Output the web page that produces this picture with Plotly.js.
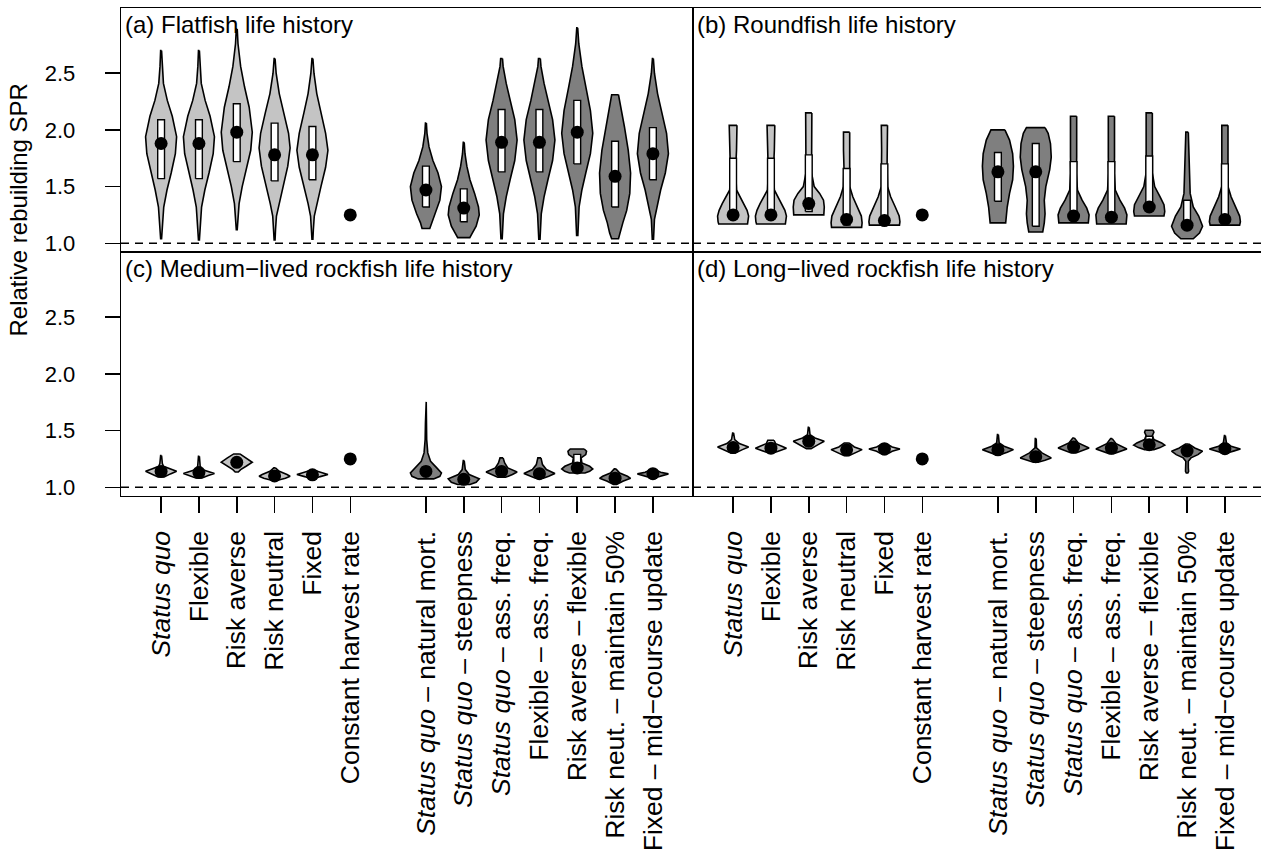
<!DOCTYPE html>
<html>
<head>
<meta charset="utf-8">
<script src="https://cdn.plot.ly/plotly-3.0.1.min.js"></script>
<style>
  html, body { margin: 0; padding: 0; overflow: hidden; background: #fff; }
  #chart { width: 1265px; height: 864px; }
</style>
</head>
<body>
<div id="chart"></div>
<script>
// Harvest control rules on the x axis; slot 7 is left empty between the two groups
const procedurePositions = [1, 2, 3, 4, 5, 6, 8, 9, 10, 11, 12, 13, 14];
const procedureLabels = [
  '<i>Status quo</i>',
  'Flexible',
  'Risk averse',
  'Risk neutral',
  'Fixed',
  'Constant harvest rate',
  '<i>Status quo</i> – natural mort.',
  '<i>Status quo</i> – steepness',
  '<i>Status quo</i> – ass. freq.',
  'Flexible – ass. freq.',
  'Risk averse – flexible',
  'Risk neut. – maintain 50%',
  'Fixed – mid−course update'
];
const panelTitles = [
  '(a) Flatfish life history',
  '(b) Roundfish life history',
  '(c) Medium−lived rockfish life history',
  '(d) Long−lived rockfish life history'
];
const yTickValues = [1.0, 1.5, 2.0, 2.5];

// (a) Flatfish: violin outline levels (SPR) with relative density at each level
const flatLevels = [
  [2.70, 2.56, 2.41, 2.26, 2.12, 1.94, 1.79, 1.62, 1.47, 1.32, 1.18, 1.04],
  [2.70, 2.56, 2.41, 2.26, 2.12, 1.94, 1.79, 1.62, 1.47, 1.32, 1.18, 1.03],
  [2.89, 2.76, 2.56, 2.38, 2.20, 1.98, 1.82, 1.65, 1.50, 1.35, 1.24, 1.12],
  [2.63, 2.50, 2.32, 2.15, 1.97, 1.84, 1.68, 1.50, 1.35, 1.24, 1.12, 1.03],
  [2.63, 2.50, 2.32, 2.15, 1.97, 1.82, 1.67, 1.50, 1.35, 1.24, 1.12, 1.035],
  null,
  [2.06, 1.97, 1.85, 1.73, 1.62, 1.50, 1.38, 1.26, 1.18, 1.13],
  [1.89, 1.79, 1.68, 1.56, 1.44, 1.32, 1.25, 1.15, 1.09, 1.05],
  [2.63, 2.56, 2.41, 2.26, 2.09, 1.91, 1.73, 1.56, 1.41, 1.26, 1.15, 1.04],
  [2.63, 2.56, 2.41, 2.26, 2.09, 1.91, 1.73, 1.56, 1.41, 1.26, 1.15, 1.035],
  [2.90, 2.76, 2.56, 2.38, 2.17, 1.97, 1.79, 1.62, 1.47, 1.32, 1.21, 1.07],
  [2.31, 2.20, 2.03, 1.82, 1.62, 1.44, 1.29, 1.18, 1.09, 1.04],
  [2.63, 2.50, 2.32, 2.15, 1.97, 1.79, 1.62, 1.47, 1.32, 1.21, 1.035]
];
const flatDensity = [
  [0.03, 0.07, 0.15, 0.40, 0.72, 1.00, 0.92, 0.65, 0.38, 0.17, 0.08, 0.03],
  [0.03, 0.07, 0.15, 0.40, 0.72, 1.00, 0.92, 0.65, 0.38, 0.17, 0.08, 0.03],
  [0.03, 0.08, 0.25, 0.50, 0.80, 1.00, 0.90, 0.60, 0.35, 0.15, 0.07, 0.03],
  [0.03, 0.10, 0.30, 0.60, 0.90, 1.00, 0.85, 0.55, 0.28, 0.12, 0.06, 0.03],
  [0.03, 0.10, 0.28, 0.55, 0.85, 1.00, 0.85, 0.55, 0.28, 0.12, 0.06, 0.03],
  null,
  [0.03, 0.07, 0.20, 0.45, 0.78, 1.00, 0.90, 0.60, 0.35, 0.25],
  [0.03, 0.08, 0.20, 0.40, 0.70, 0.95, 1.00, 0.80, 0.55, 0.39],
  [0.06, 0.10, 0.30, 0.55, 0.85, 1.00, 0.85, 0.55, 0.30, 0.12, 0.07, 0.04],
  [0.06, 0.10, 0.30, 0.55, 0.85, 1.00, 0.85, 0.55, 0.30, 0.12, 0.07, 0.04],
  [0.03, 0.10, 0.30, 0.55, 0.85, 1.00, 0.85, 0.55, 0.30, 0.12, 0.07, 0.04],
  [0.22, 0.35, 0.60, 0.85, 1.00, 0.95, 0.75, 0.50, 0.35, 0.22],
  [0.03, 0.10, 0.30, 0.60, 0.88, 1.00, 0.80, 0.50, 0.25, 0.10, 0.04]
];
const flatQ1 = [1.57, 1.57, 1.72, 1.55, 1.56, null, 1.32, 1.19, 1.63, 1.63, 1.70, 1.32, 1.56];
const flatQ3 = [2.09, 2.09, 2.23, 2.06, 2.03, null, 1.68, 1.48, 2.18, 2.18, 2.26, 1.90, 2.02];
const flatMedian = [1.88, 1.88, 1.98, 1.78, 1.78, 1.25, 1.47, 1.31, 1.89, 1.89, 1.98, 1.59, 1.79];

// (b) Roundfish
const roundLevels = [
  [2.04, 1.97, 1.82, 1.76, 1.62, 1.47, 1.41, 1.35, 1.29, 1.24, 1.19, 1.17],
  [2.04, 1.97, 1.82, 1.76, 1.62, 1.47, 1.41, 1.35, 1.29, 1.24, 1.19, 1.17],
  [2.15, 1.97, 1.79, 1.62, 1.50, 1.44, 1.38, 1.32, 1.25],
  [1.98, 1.82, 1.67, 1.50, 1.41, 1.32, 1.24, 1.18, 1.14],
  [2.04, 1.82, 1.67, 1.50, 1.41, 1.32, 1.24, 1.19, 1.16],
  null,
  [2.00, 1.91, 1.79, 1.68, 1.56, 1.44, 1.32, 1.24, 1.18],
  [2.02, 1.97, 1.88, 1.76, 1.65, 1.50, 1.38, 1.26, 1.18, 1.10],
  [2.12, 1.97, 1.76, 1.62, 1.47, 1.38, 1.31, 1.25, 1.18],
  [2.12, 1.97, 1.76, 1.62, 1.47, 1.38, 1.31, 1.25, 1.17],
  [2.15, 1.97, 1.79, 1.62, 1.50, 1.41, 1.34, 1.28, 1.24],
  [1.98, 1.82, 1.62, 1.44, 1.32, 1.24, 1.15, 1.09, 1.04],
  [2.04, 1.82, 1.67, 1.50, 1.41, 1.32, 1.24, 1.19, 1.16]
];
const roundDensity = [
  [0.25, 0.25, 0.22, 0.20, 0.17, 0.22, 0.45, 0.70, 0.90, 1.00, 0.97, 0.93],
  [0.25, 0.25, 0.22, 0.20, 0.17, 0.22, 0.45, 0.70, 0.90, 1.00, 0.97, 0.93],
  [0.20, 0.20, 0.18, 0.18, 0.35, 0.70, 0.95, 1.00, 0.97],
  [0.20, 0.20, 0.17, 0.20, 0.40, 0.70, 0.95, 1.00, 0.97],
  [0.20, 0.18, 0.17, 0.20, 0.40, 0.70, 0.95, 1.00, 0.97],
  null,
  [0.45, 0.75, 0.95, 1.00, 0.95, 0.75, 0.60, 0.55, 0.50],
  [0.60, 0.80, 0.95, 1.00, 0.90, 0.65, 0.55, 0.60, 0.55, 0.45],
  [0.20, 0.22, 0.20, 0.18, 0.25, 0.55, 0.85, 1.00, 0.95],
  [0.20, 0.22, 0.20, 0.18, 0.25, 0.55, 0.85, 1.00, 0.95],
  [0.20, 0.22, 0.20, 0.20, 0.35, 0.70, 0.95, 1.00, 0.95],
  [0.08, 0.12, 0.15, 0.20, 0.40, 0.75, 1.00, 0.80, 0.40],
  [0.20, 0.20, 0.18, 0.20, 0.40, 0.70, 0.95, 1.00, 0.95]
];
const roundQ1 = [1.23, 1.23, 1.28, 1.16, 1.18, null, 1.37, 1.15, 1.21, 1.20, 1.29, 1.12, 1.18];
const roundQ3 = [1.75, 1.75, 1.78, 1.66, 1.70, null, 1.80, 1.88, 1.72, 1.72, 1.77, 1.38, 1.70];
const roundMedian = [1.25, 1.25, 1.35, 1.21, 1.20, 1.25, 1.63, 1.63, 1.24, 1.23, 1.32, 1.16, 1.21];

// (c) Medium-lived rockfish
const mediumLevels = [
  [1.28, 1.21, 1.185, 1.162, 1.141, 1.118, 1.091],
  [1.274, 1.185, 1.156, 1.135, 1.121, 1.103, 1.082],
  [1.294, 1.259, 1.221, 1.185, 1.156, 1.135],
  [1.171, 1.141, 1.112, 1.097, 1.079, 1.062],
  [1.15, 1.126, 1.112, 1.094, 1.074],
  null,
  [1.753, 1.568, 1.421, 1.303, 1.229, 1.171, 1.126, 1.097, 1.074],
  [1.235, 1.156, 1.112, 1.074, 1.044, 1.024],
  [1.259, 1.215, 1.171, 1.135, 1.112, 1.088],
  [1.259, 1.20, 1.156, 1.121, 1.097, 1.079],
  [1.338, 1.318, 1.288, 1.259, 1.215, 1.185, 1.162, 1.141, 1.126],
  [1.162, 1.126, 1.097, 1.079, 1.053, 1.024],
  [1.156, 1.132, 1.118, 1.097, 1.082]
];
const mediumDensity = [
  [0.03, 0.08, 0.15, 0.60, 1.00, 0.60, 0.20],
  [0.03, 0.08, 0.20, 0.70, 1.00, 0.60, 0.20],
  [0.20, 0.60, 1.00, 0.60, 0.25, 0.10],
  [0.05, 0.30, 0.80, 1.00, 0.70, 0.20],
  [0.10, 0.60, 1.00, 0.50, 0.10],
  null,
  [0.02, 0.03, 0.05, 0.12, 0.30, 0.70, 1.00, 0.90, 0.50],
  [0.03, 0.10, 0.35, 1.00, 0.80, 0.40],
  [0.10, 0.20, 0.40, 1.00, 0.70, 0.25],
  [0.10, 0.20, 0.45, 1.00, 0.60, 0.25],
  [0.45, 0.60, 0.55, 0.25, 0.30, 0.80, 1.00, 0.80, 0.50],
  [0.05, 0.30, 0.80, 1.00, 0.50, 0.10],
  [0.10, 0.50, 1.00, 0.50, 0.10]
];
const mediumQ1 = [1.12, 1.11, 1.20, 1.09, 1.10, null, 1.11, 1.05, 1.12, 1.10, 1.15, 1.06, 1.11];
const mediumQ3 = [1.16, 1.15, 1.24, 1.12, 1.12, null, 1.18, 1.10, 1.16, 1.14, 1.29, 1.10, 1.13];
const mediumMedian = [1.14, 1.13, 1.22, 1.10, 1.11, 1.25, 1.14, 1.07, 1.14, 1.12, 1.17, 1.08, 1.12];

// (d) Long-lived rockfish
const longLevels = [
  [1.479, 1.421, 1.385, 1.356, 1.332, 1.303],
  [1.415, 1.385, 1.362, 1.344, 1.324, 1.303],
  [1.529, 1.465, 1.435, 1.406, 1.376, 1.341],
  [1.391, 1.356, 1.332, 1.309, 1.279],
  [1.382, 1.356, 1.338, 1.318, 1.288],
  null,
  [1.465, 1.391, 1.362, 1.332, 1.309, 1.288],
  [1.429, 1.347, 1.303, 1.259, 1.238, 1.221],
  [1.435, 1.391, 1.347, 1.324, 1.303],
  [1.429, 1.385, 1.338, 1.318, 1.297],
  [1.503, 1.485, 1.456, 1.421, 1.391, 1.371, 1.350, 1.332],
  [1.382, 1.347, 1.318, 1.288, 1.259, 1.229, 1.171, 1.141, 1.126],
  [1.456, 1.391, 1.362, 1.338, 1.321, 1.303]
];
const longDensity = [
  [0.03, 0.10, 0.40, 1.00, 0.60, 0.15],
  [0.20, 0.30, 0.70, 1.00, 0.60, 0.15],
  [0.03, 0.08, 0.40, 1.00, 0.60, 0.15],
  [0.15, 0.50, 1.00, 0.60, 0.15],
  [0.15, 0.50, 1.00, 0.50, 0.10],
  null,
  [0.03, 0.08, 0.40, 1.00, 0.60, 0.15],
  [0.03, 0.05, 0.40, 1.00, 0.60, 0.15],
  [0.05, 0.30, 1.00, 0.60, 0.15],
  [0.05, 0.30, 1.00, 0.60, 0.15],
  [0.25, 0.30, 0.20, 0.30, 0.80, 1.00, 0.70, 0.30],
  [0.10, 0.50, 1.00, 0.70, 0.25, 0.08, 0.08, 0.10, 0.05],
  [0.03, 0.10, 0.40, 1.00, 0.60, 0.15]
];
const longQ1 = [1.34, 1.335, 1.39, 1.32, 1.33, null, 1.32, 1.255, 1.345, 1.335, 1.36, 1.30, 1.33];
const longQ3 = [1.37, 1.36, 1.42, 1.345, 1.35, null, 1.345, 1.29, 1.37, 1.36, 1.45, 1.335, 1.35];
const longMedian = [1.35, 1.345, 1.405, 1.33, 1.34, 1.25, 1.33, 1.27, 1.355, 1.345, 1.375, 1.32, 1.34];

// ---- drawing ----
const FONT = 'Liberation Sans, Arial, Helvetica, sans-serif';
const VIOLIN_HALF_WIDTH = 0.41;   // x units at peak density
const BOX_HALF_WIDTH = 0.09;
const LIGHT_FILL = '#c4c4c4';
const DARK_FILL = '#7f7f7f';

function panelTraces(levels, density, q1, q3, median, xa, ya) {
  const traces = [];
  procedurePositions.forEach((pos, i) => {
    const fill = i < 6 ? LIGHT_FILL : DARK_FILL;
    if (levels[i]) {
      const lv = levels[i], d = density[i];
      const right = lv.map((v, k) => pos + d[k] * VIOLIN_HALF_WIDTH);
      const left = lv.map((v, k) => pos - d[k] * VIOLIN_HALF_WIDTH).reverse();
      const x = right.concat(left, [right[0]]);
      const y = lv.concat(lv.slice().reverse(), [lv[0]]);
      traces.push({
        type: 'scatter', mode: 'lines', x: x, y: y, xaxis: xa, yaxis: ya,
        fill: 'toself', fillcolor: fill,
        line: { color: '#000', width: 1.6 },
        hoverinfo: 'skip', showlegend: false
      });
    }
    if (q1[i] != null && q3[i] != null) {
      traces.push({
        type: 'scatter', mode: 'lines', xaxis: xa, yaxis: ya,
        x: [pos - BOX_HALF_WIDTH, pos + BOX_HALF_WIDTH, pos + BOX_HALF_WIDTH, pos - BOX_HALF_WIDTH, pos - BOX_HALF_WIDTH],
        y: [q1[i], q1[i], q3[i], q3[i], q1[i]],
        fill: 'toself', fillcolor: '#ffffff',
        line: { color: '#000', width: 1.4 },
        hoverinfo: 'skip', showlegend: false
      });
    }
  });
  traces.push({
    type: 'scatter', mode: 'markers', xaxis: xa, yaxis: ya,
    x: procedurePositions, y: median,
    marker: { color: '#000', size: 13, line: { width: 0 } },
    cliponaxis: false, hoverinfo: 'skip', showlegend: false
  });
  return traces;
}

const data = [].concat(
  panelTraces(flatLevels, flatDensity, flatQ1, flatQ3, flatMedian, 'x', 'y'),
  panelTraces(roundLevels, roundDensity, roundQ1, roundQ3, roundMedian, 'x2', 'y2'),
  panelTraces(mediumLevels, mediumDensity, mediumQ1, mediumQ3, mediumMedian, 'x3', 'y3'),
  panelTraces(longLevels, longDensity, longQ1, longQ3, longMedian, 'x4', 'y4')
);

const X_RANGE = [-0.06, 15.06];
const Y_RANGE = [0.923, 3.075];

function xAxis(domain, anchor, labelled) {
  const ax = {
    domain: domain, anchor: anchor, range: X_RANGE,
    showgrid: false, zeroline: false,
    showline: true, mirror: true, linecolor: '#000', linewidth: 1.3
  };
  if (labelled) {
    Object.assign(ax, {
      tickmode: 'array', tickvals: procedurePositions, ticktext: procedureLabels,
      tickangle: -90, ticks: 'outside', ticklen: 16, tickwidth: 1.5, tickcolor: '#000',
      ticklabelstandoff: 7,
      tickfont: { family: FONT, size: 26.5, color: '#000' }
    });
  } else {
    Object.assign(ax, { ticks: '', showticklabels: false });
  }
  return ax;
}
function yAxis(domain, anchor, labelled) {
  const ax = {
    domain: domain, anchor: anchor, range: Y_RANGE,
    showgrid: false, zeroline: false,
    showline: true, mirror: true, linecolor: '#000', linewidth: 1.3
  };
  if (labelled) {
    Object.assign(ax, {
      tickmode: 'array', tickvals: yTickValues,
      ticktext: yTickValues.map(v => v.toFixed(1)),
      ticks: 'outside', ticklen: 15, tickwidth: 1.5, tickcolor: '#000',
      ticklabelstandoff: 25,
      tickfont: { family: FONT, size: 22, color: '#000' }
    });
  } else {
    Object.assign(ax, { ticks: '', showticklabels: false });
  }
  return ax;
}

const dashed = (xa, ya) => ({
  type: 'line', xref: xa + ' domain', x0: 0, x1: 1, yref: ya, y0: 1, y1: 1,
  line: { color: '#000', width: 1.5, dash: '8px,6px' }
});
const title = (text, xa, ya) => ({
  text: text, xref: xa + ' domain', yref: ya + ' domain', x: 0, y: 1,
  xanchor: 'left', yanchor: 'top', xshift: 2, yshift: -1, showarrow: false,
  font: { family: FONT, size: 24, color: '#000' }
});

const layout = {
  width: 1265, height: 864,
  margin: { l: 121, r: 0, t: 8, b: 368 },
  paper_bgcolor: '#fff', plot_bgcolor: '#fff',
  showlegend: false,
  font: { family: FONT, color: '#000' },
  xaxis: xAxis([0, 0.5], 'y', false),
  yaxis: yAxis([0.5, 1], 'x', true),
  xaxis2: xAxis([0.5, 1], 'y2', false),
  yaxis2: yAxis([0.5, 1], 'x2', false),
  xaxis3: xAxis([0, 0.5], 'y3', true),
  yaxis3: yAxis([0, 0.5], 'x3', true),
  xaxis4: xAxis([0.5, 1], 'y4', true),
  yaxis4: yAxis([0, 0.5], 'x4', false),
  shapes: [dashed('x', 'y'), dashed('x2', 'y2'), dashed('x3', 'y3'), dashed('x4', 'y4')],
  annotations: [
    title(panelTitles[0], 'x', 'y'),
    title(panelTitles[1], 'x2', 'y2'),
    title(panelTitles[2], 'x3', 'y3'),
    title(panelTitles[3], 'x4', 'y4'),
    {
      text: 'Relative rebuilding SPR', textangle: -90, showarrow: false,
      xref: 'paper', yref: 'paper', x: 0, y: 0.585, xanchor: 'center', yanchor: 'middle',
      xshift: -102, font: { family: FONT, size: 24, color: '#000' }
    }
  ]
};

Plotly.newPlot('chart', data, layout, { staticPlot: true, displayModeBar: false });
</script>
</body>
</html>
